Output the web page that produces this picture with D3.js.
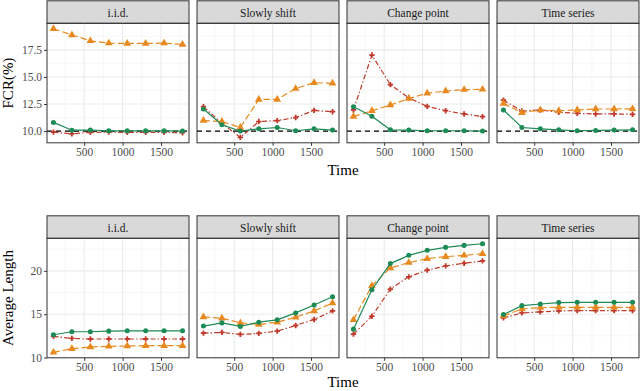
<!DOCTYPE html>
<meta charset="utf-8">
<style>
body { margin: 0; background: #fff; }
svg text { font-family: "Liberation Serif", "DejaVu Serif", serif; font-weight: normal; }
.tick text { fill: #4d4d4d; font-size: 11.5px; }
.tick line { stroke: #333; }
.domain { display: none; }
</style>
<svg id="chart" width="640" height="391"></svg>
<script src="https://cdn.jsdelivr.net/npm/d3@7"></script>
<script>
// values
var times = [100, 340, 580, 820, 1060, 1300, 1540, 1780];
var scenarios = ["i.i.d.", "Slowly shift", "Change point", "Time series"];

// FCR(%) — one row per scenario
var fcrGreen = [
  [10.8, 10.08, 10.1, 10.02, 10.02, 10.02, 10.02, 10.0],
  [12.04, 10.58, 10.0, 10.21, 10.33, 10.03, 10.21, 10.09],
  [12.25, 11.37, 10.12, 10.09, 10.03, 10.03, 10.03, 10.0],
  [11.95, 10.33, 10.21, 10.12, 10.03, 10.06, 10.09, 10.12]
];
var fcrOrange = [
  [19.45, 18.88, 18.33, 18.12, 18.09, 18.09, 18.12, 18.0],
  [10.97, 10.88, 10.33, 12.92, 12.92, 13.92, 14.47, 14.41],
  [11.34, 11.88, 12.4, 13.0, 13.5, 13.7, 13.83, 13.85],
  [12.55, 11.7, 11.95, 11.88, 11.95, 12.04, 12.04, 12.05]
];
var fcrRed = [
  [9.9, 9.75, 9.88, 9.9, 9.88, 9.88, 9.88, 9.85],
  [12.25, 10.73, 9.42, 10.88, 10.97, 11.25, 11.91, 11.79],
  [11.95, 17.02, 14.29, 13.07, 12.28, 11.88, 11.58, 11.34],
  [12.86, 11.85, 11.95, 11.73, 11.64, 11.58, 11.58, 11.55]
];

// Average Length
var lenGreen = [
  [12.63, 12.98, 12.98, 13.05, 13.09, 13.09, 13.09, 13.09],
  [13.63, 14.0, 13.59, 14.08, 14.35, 15.15, 16.07, 17.02],
  [13.28, 17.82, 20.84, 21.79, 22.37, 22.71, 22.94, 23.13],
  [14.96, 15.99, 16.18, 16.34, 16.37, 16.37, 16.37, 16.37]
];
var lenOrange = [
  [10.6, 11.03, 11.22, 11.3, 11.34, 11.37, 11.37, 11.37],
  [14.69, 14.54, 14.0, 13.82, 14.08, 14.66, 15.38, 16.3],
  [14.35, 18.28, 20.34, 20.95, 21.41, 21.64, 21.79, 21.98],
  [14.81, 15.61, 15.76, 15.8, 15.8, 15.8, 15.8, 15.8]
];
var lenRed = [
  [12.44, 12.21, 12.14, 12.14, 12.14, 12.14, 12.14, 12.14],
  [12.82, 12.9, 12.67, 12.79, 13.05, 13.7, 14.39, 15.38],
  [12.71, 14.77, 17.9, 19.31, 20.08, 20.57, 20.88, 21.15],
  [14.58, 15.15, 15.27, 15.38, 15.42, 15.42, 15.42, 15.42]
];

var fcrTicks = [10, 12.5, 15, 17.5];
var lenTicks = [10, 15, 20];
var xTicks = [500, 1000, 1500];
var target = 10;

var svg = d3.select("#chart");
var panelLeft = 47, panelW = 142, gap = 8, plotH = 119.5, stripH = 22.5;

function expand(ext) {
  var d = (ext[1] - ext[0]) * 0.05;
  return [ext[0] - d, ext[1] + d];
}

var x = d3.scaleLinear().domain(expand(d3.extent(times))).range([0, panelW]);

var seriesStyle = [
  { key: "red", color: "#c0392b", dash: "5,2.2,1.4,2.2", symbol: d3.symbolCross, size: 16 },
  { key: "orange", color: "#e8891f", dash: "6.5,3", symbol: d3.symbolTriangle, size: 26 },
  { key: "green", color: "#1e8b57", dash: null, symbol: d3.symbolCircle, size: 20 }
];

function drawRow(opts) {
  var all = d3.merge(opts.red.concat(opts.orange, opts.green));
  var y = d3.scaleLinear().domain(expand(d3.extent(all))).range([plotH, 0]);
  var minorY = opts.ticks.slice(0, -1).map(function(t, i) { return (t + opts.ticks[i + 1]) / 2; });
  var step = opts.ticks[1] - opts.ticks[0];
  minorY.push(opts.ticks[opts.ticks.length - 1] + step / 2);
  minorY = minorY.filter(function(v) { return v <= y.domain()[1]; });

  scenarios.forEach(function(name, si) {
    var g = svg.append("g")
      .attr("transform", "translate(" + (panelLeft + si * (panelW + gap)) + "," + opts.top + ")");

    // strip
    g.append("rect").attr("x", 0).attr("y", -stripH).attr("width", panelW).attr("height", stripH)
      .attr("fill", "#d9d9d9").attr("stroke", "#333").attr("stroke-width", 1);
    g.append("text").attr("x", panelW / 2).attr("y", -stripH / 2 + 4.5)
      .attr("text-anchor", "middle").attr("font-size", "11.5px").attr("fill", "#1a1a1a")
      .text(name);

    // grid
    var grid = g.append("g");
    grid.selectAll(".gy").data(minorY).enter().append("line")
      .attr("x1", 0).attr("x2", panelW).attr("y1", y).attr("y2", y)
      .attr("stroke", "#f2f2f2").attr("stroke-width", 0.6);
    grid.selectAll(".gx").data([250, 750, 1250, 1750]).enter().append("line")
      .attr("y1", 0).attr("y2", plotH).attr("x1", x).attr("x2", x)
      .attr("stroke", "#f2f2f2").attr("stroke-width", 0.6);
    grid.selectAll(".gY").data(opts.ticks).enter().append("line")
      .attr("x1", 0).attr("x2", panelW).attr("y1", y).attr("y2", y)
      .attr("stroke", "#ebebeb").attr("stroke-width", 1.1);
    grid.selectAll(".gX").data(xTicks).enter().append("line")
      .attr("y1", 0).attr("y2", plotH).attr("x1", x).attr("x2", x)
      .attr("stroke", "#ebebeb").attr("stroke-width", 1.1);

    if (opts.hline != null) {
      g.append("line").attr("x1", 0).attr("x2", panelW)
        .attr("y1", y(opts.hline)).attr("y2", y(opts.hline))
        .attr("stroke", "#000").attr("stroke-width", 1.4).attr("stroke-dasharray", "5,4");
    }

    seriesStyle.forEach(function(s) {
      var vals = opts[s.key][si];
      var pts = times.map(function(t, i) { return [t, vals[i]]; });
      g.append("path").datum(pts)
        .attr("fill", "none").attr("stroke", s.color).attr("stroke-width", 1.2)
        .attr("stroke-dasharray", s.dash)
        .attr("d", d3.line().x(function(d) { return x(d[0]); }).y(function(d) { return y(d[1]); }));
      g.selectAll(".pt-" + s.key).data(pts).enter().append("path")
        .attr("transform", function(d) { return "translate(" + x(d[0]) + "," + y(d[1]) + ")"; })
        .attr("d", d3.symbol().type(s.symbol).size(s.size))
        .attr("fill", s.color);
    });

    // border
    g.append("rect").attr("width", panelW).attr("height", plotH)
      .attr("fill", "none").attr("stroke", "#333").attr("stroke-width", 1);

    g.append("g").attr("transform", "translate(0," + plotH + ")")
      .call(d3.axisBottom(x).tickValues(xTicks).tickSize(3).tickPadding(2).tickFormat(d3.format("d")));

    if (si === 0) {
      g.append("g")
        .call(d3.axisLeft(y).tickValues(opts.ticks).tickSize(3).tickPadding(2)
          .tickFormat(opts.fmt));
    }
  });

  svg.append("text").attr("x", panelLeft + (4 * panelW + 3 * gap) / 2).attr("y", opts.top + plotH + opts.titleOff)
    .attr("text-anchor", "middle").attr("font-size", "15px").attr("fill", "#000").text("Time");
  svg.append("text")
    .attr("transform", "translate(13," + (opts.top + plotH / 2) + ") rotate(-90)")
    .attr("text-anchor", "middle").attr("font-size", "15px").attr("fill", "#000").text(opts.title);
}

drawRow({ top: 23.3, red: fcrRed, orange: fcrOrange, green: fcrGreen, titleOff: 32,
  ticks: fcrTicks, fmt: d3.format(".1f"), hline: target, title: "FCR(%)" });
drawRow({ top: 238.3, red: lenRed, orange: lenOrange, green: lenGreen, titleOff: 29.5,
  ticks: lenTicks, fmt: d3.format("d"), hline: null, title: "Average Length" });
</script>
